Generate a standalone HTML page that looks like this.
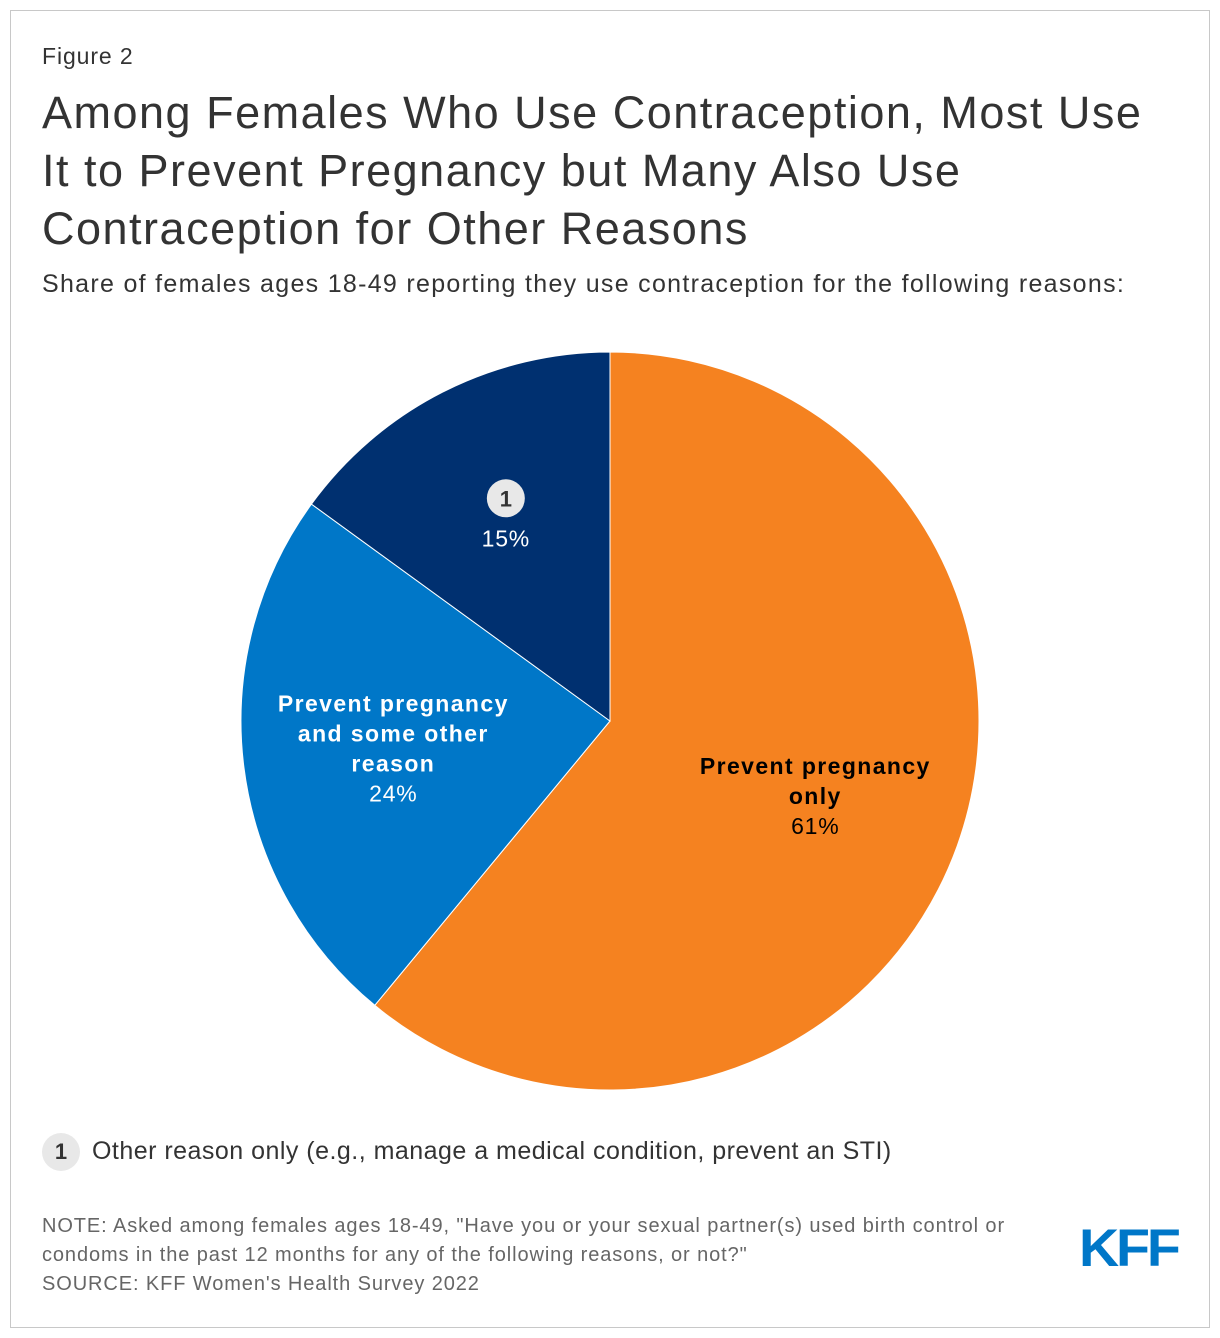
<!DOCTYPE html>
<html><head><meta charset="utf-8"><style>
body{margin:0;background:#fff;font-family:"Liberation Sans",Arial,sans-serif;}
.frame{position:absolute;left:10px;top:10px;width:1198px;height:1316px;border:1px solid #c8c8c8;}
.t{position:absolute;color:#333;white-space:nowrap;}
</style></head><body>
<div class="t frame"></div>
<div class="t" style="left:42px;top:43px;font-size:23px;letter-spacing:0.9px;">Figure 2</div>
<div class="t" style="left:42px;top:84px;font-size:45px;line-height:58px;letter-spacing:1.5px;">Among Females Who Use Contraception, Most Use<br>It to Prevent Pregnancy but Many Also Use<br>Contraception for Other Reasons</div>
<div class="t" style="left:42px;top:270px;font-size:25px;letter-spacing:1.3px;">Share of females ages 18-49 reporting they use contraception for the following reasons:</div>
<svg id="pie" width="1220" height="1338" style="position:absolute;left:0;top:0;"></svg>
<div class="t" style="left:42px;top:1133px;width:38px;height:38px;border-radius:19px;background:#e8e8e8;font-size:22px;font-weight:bold;text-align:center;line-height:38px;">1</div>
<div class="t" style="left:92px;top:1137px;font-size:25px;letter-spacing:0.48px;">Other reason only (e.g., manage a medical condition, prevent an STI)</div>
<div class="t" style="left:42px;top:1212px;font-size:20px;line-height:29px;color:#666;letter-spacing:0.9px;">NOTE: Asked among females ages 18-49, "Have you or your sexual partner(s) used birth control or<br>condoms in the past 12 months for any of the following reasons, or not?"<br>SOURCE: KFF Women's Health Survey 2022</div>
<div class="t" style="left:1079px;top:1218px;font-size:53px;font-weight:bold;color:#0077c8;letter-spacing:-3px;transform:scaleX(1.05);transform-origin:left;">KFF</div>
<script>
const categories=["Prevent pregnancy only","Prevent pregnancy and some other reason","Other reason only"];
const values=[61,24,15];
const labelLines=[["Prevent pregnancy","only"],["Prevent pregnancy","and some other","reason"],[]];
const colors=["#f58220","#0077c8","#003070"];
const svg=document.getElementById('pie');
const NS="http://www.w3.org/2000/svg";
const cx=610,cy=721,r=369;
const total=values.reduce((a,b)=>a+b,0);
function pt(a,rr){return [cx+rr*Math.sin(a),cy-rr*Math.cos(a)];}
let start=0;
values.forEach((v,i)=>{
  const ang=v/total*2*Math.PI;const end=start+ang;
  const [x1,y1]=pt(start,r),[x2,y2]=pt(end,r);
  const p=document.createElementNS(NS,'path');
  p.setAttribute('d',`M${cx},${cy}L${x1},${y1}A${r},${r} 0 ${ang>Math.PI?1:0} 1 ${x2},${y2}Z`);
  p.setAttribute('fill',colors[i]);p.setAttribute('stroke','#fff');p.setAttribute('stroke-width','1');
  
  
  svg.appendChild(p);
  const mid=start+ang/2;
  const rf=i===0?0.6:(i===1?0.6:0.58);
  let [lx,ly]=pt(mid,r*rf);
  if(i===1)lx+=3;
  if(i===0)lx-=3;
  if(i===2){lx-=7;ly-=10;}
  const dark=i===0;const col=dark?'#000':'#fff';
  const lines=labelLines[i];
  const n=lines.length+1;
  let y0=ly-(n-1)*15+8;
  if(i===2){
    const c=document.createElementNS(NS,'circle');
    c.setAttribute('cx',lx);c.setAttribute('cy',ly-22);c.setAttribute('r',19);c.setAttribute('fill','#e8e8e8');
    
    
    svg.appendChild(c);
    const bt=document.createElementNS(NS,'text');
    bt.setAttribute('x',lx);bt.setAttribute('y',ly-14);bt.setAttribute('text-anchor','middle');
    bt.setAttribute('font-size','22');bt.setAttribute('font-weight','bold');bt.setAttribute('fill','#333');
    bt.textContent='1';
    
    
    svg.appendChild(bt);
    y0=ly+26;
  }
  lines.forEach((ln,j)=>{
    const t=document.createElementNS(NS,'text');
    t.setAttribute('x',lx);t.setAttribute('y',y0+j*30);t.setAttribute('text-anchor','middle');
    t.setAttribute('font-size','23');t.setAttribute('font-weight','bold');t.setAttribute('fill',col);
    t.setAttribute('letter-spacing','1.4');
    t.setAttribute('font-family','Liberation Sans, Arial, sans-serif');
    t.textContent=ln;
    
    
    svg.appendChild(t);
  });
  const t=document.createElementNS(NS,'text');
  t.setAttribute('x',lx);t.setAttribute('y',y0+lines.length*30);t.setAttribute('text-anchor','middle');
  t.setAttribute('font-size','23');t.setAttribute('fill',col);t.setAttribute('letter-spacing','0.8');
  t.setAttribute('font-family','Liberation Sans, Arial, sans-serif');
  t.textContent=v+'%';
  
  
  svg.appendChild(t);
  start=end;
});
</script>
</body></html>
